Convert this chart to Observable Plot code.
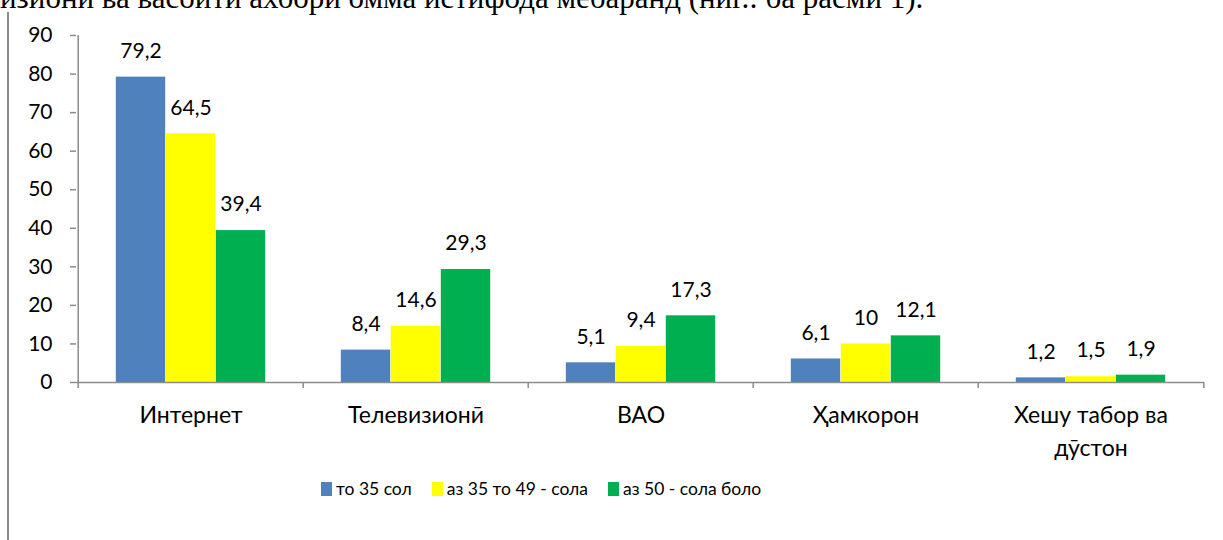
<!DOCTYPE html>
<html><head><meta charset="utf-8">
<script src="https://cdn.jsdelivr.net/npm/d3@7"></script>
<script src="https://cdn.jsdelivr.net/npm/@observablehq/plot@0.6"></script>
<style>
body{margin:0;background:#fff;overflow:hidden;}
#wrap{position:relative;width:1223px;height:540px;overflow:hidden;background:#fff;}
#heading{position:absolute;left:0;top:-15px;font-family:"Liberation Serif";font-size:31px;line-height:26px;white-space:nowrap;color:#000;}
#vline{position:absolute;left:7px;top:12px;width:2px;height:528px;background:#8c8c8c;}
#chart{position:absolute;left:0;top:0;}
#legend{position:absolute;left:321px;top:480px;font-family:Lato;font-size:17.5px;line-height:18px;display:flex;gap:20px;color:#000;white-space:nowrap;}
#legend .sw{display:inline-block;width:11px;height:14px;margin-right:4px;vertical-align:-1px;}
</style>
</head><body>
<div id="wrap">
<div id="heading">изиони ва васоити ахбори омма истифода мебаранд (ниг.: ба расми 1).</div>
<div id="vline"></div>
<div id="chart"></div>
<div id="legend"></div>
</div>
<script>
const categories = ["Интернет", "Телевизионӣ", "ВАО", "Ҳамкорон", "Хешу табор ва дӯстон"];
const seriesNames = ["то 35 сол", "аз 35 то 49 - сола", "аз 50 - сола боло"];
const seriesColors = ["#4F81BD", "#FFFF00", "#00B050"];
const under35 = [79.2, 8.4, 5.1, 6.1, 1.2];
const age35to49 = [64.5, 14.6, 9.4, 10, 1.5];
const over50 = [39.4, 29.3, 17.3, 12.1, 1.9];
const yTicks = [0, 10, 20, 30, 40, 50, 60, 70, 80, 90];

const seriesValues = [under35, age35to49, over50];
const rows = seriesValues.map((vals, k) => categories.map((c, i) => ({category: c, series: seriesNames[k], value: vals[i]})));

const W = 1223, H = 470, mL = 76, mR = 19, mT = 35, mB = 88;
const step = (W - mL - mR) / categories.length;
const barW = 50;
const axisColor = "#8c8c8c";
const fmt = v => String(v).replace(".", ",");

const marks = [];
rows.forEach((data, k) => {
  const left = step / 2 - barW * 1.5 + barW * k;
  marks.push(Plot.barY(data, {
    x: "category", y: "value", fill: d => d.series,
    insetLeft: left, insetRight: step - left - barW
  }));
  marks.push(Plot.text(data, {
    x: "category", y: "value", text: d => fmt(d.value),
    dx: (k - 1) * barW, dy: -26, fontSize: 21, fill: "#000"
  }));
});

const chart = Plot.plot({
  width: W, height: H,
  marginLeft: mL, marginRight: mR, marginTop: mT, marginBottom: mB,
  style: {fontFamily: "Lato", fontSize: "21px", color: "#000", background: "transparent"},
  x: {domain: categories, padding: 0, axis: null},
  y: {domain: [0, 90], axis: null},
  color: {domain: seriesNames, range: seriesColors},
  marks: [
    ...marks,
    Plot.ruleY([0], {stroke: axisColor, strokeWidth: 1.5}),
    Plot.ruleX([categories[0]], {x: d => d, dx: -step / 2, stroke: axisColor, strokeWidth: 1.5}),
    Plot.ruleX(categories, {x: d => d, y1: 0, y2: 0, dx: -step / 2, insetBottom: -6, stroke: axisColor, strokeWidth: 1.5}),
    Plot.ruleX([categories[categories.length - 1]], {x: d => d, y1: 0, y2: 0, dx: step / 2, insetBottom: -6, stroke: axisColor, strokeWidth: 1.5}),
    Plot.axisY({ticks: yTicks, tickSize: 6, tickPadding: 18, stroke: axisColor, strokeWidth: 1.5, fill: "#000", fontSize: 21, label: null}),
    Plot.axisX({tickSize: 0, tickPadding: 18, lineWidth: 7, lineHeight: 1.4, fill: "#000", fontSize: 23, label: null})
  ]
});
document.getElementById("chart").appendChild(chart);

const colorScale = chart.scale("color");
const legend = document.getElementById("legend");
colorScale.domain.forEach((name, i) => {
  const item = document.createElement("span");
  const sw = document.createElement("span");
  sw.className = "sw";
  sw.style.background = colorScale.range[i];
  item.appendChild(sw);
  item.appendChild(document.createTextNode(name));
  legend.appendChild(item);
});
</script>
</body></html>
